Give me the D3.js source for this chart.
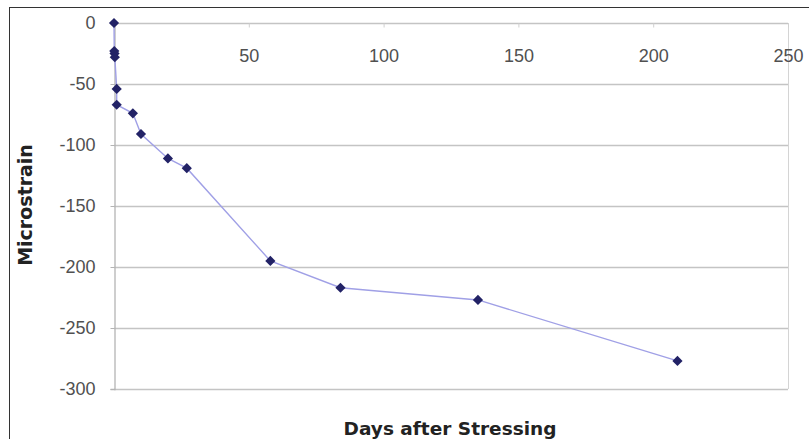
<!DOCTYPE html>
<html><head><meta charset="utf-8">
<script src="https://cdn.jsdelivr.net/npm/d3@7"></script>
<style>body{margin:0;background:#fff;}svg{display:block;font-family:"DejaVu Sans",sans-serif;}</style>
</head><body><svg id="c" width="809" height="439"></svg>
<script>
const days = [0, 0.1, 0.2, 0.3, 1, 1, 7, 10, 20, 27, 58, 84, 135, 209];
const strain = [0, -23, -25, -28, -54, -67, -74, -91, -111, -119, -195, -217, -227, -277];
const xTicks = [50, 100, 150, 200, 250];
const yTicks = [0, -50, -100, -150, -200, -250, -300];
const xTitle = "Days after Stressing";
const yTitle = "Microstrain";

const svg = d3.select("#c");
const L = 114, R = 788, T = 23, B = 389;
const x = d3.scaleLinear().domain([0, 250]).range([L, R]);
const y = d3.scaleLinear().domain([0, -300]).range([T, B]);

svg.append("rect").attr("x", 9.5).attr("y", 7.5).attr("width", 820).attr("height", 450)
  .attr("fill", "#fff").attr("stroke", "#333").attr("stroke-width", 1);

// gridlines
svg.append("g").selectAll("line").data(yTicks).join("line")
  .attr("x1", L).attr("x2", R).attr("y1", d => y(d) + 0.5).attr("y2", d => y(d) + 0.5)
  .attr("stroke", "#c4c4c4").attr("stroke-width", 1.3);
svg.append("line").attr("x1", R + 0.5).attr("x2", R + 0.5).attr("y1", T).attr("y2", B)
  .attr("stroke", "#d4d4d4");

// y axis
const ya = svg.append("g").attr("transform", `translate(${L + 0.5},0)`)
  .call(d3.axisLeft(y).tickValues(yTicks).tickSize(4).tickPadding(15).tickFormat(d => String(d)));
ya.select(".domain").attr("stroke", "#b4b4b4").attr("stroke-width", 1.3);
ya.selectAll(".tick line").attr("stroke", "#b4b4b4");
ya.selectAll("text").attr("font-size", 18).attr("fill", "#505050");

// x axis crossing at y=0
const xa = svg.append("g").attr("transform", `translate(0,${y(0) + 0.5})`)
  .call(d3.axisBottom(x).tickValues(xTicks).tickSize(4).tickPadding(22).tickFormat(d => String(d)));
xa.select(".domain").attr("stroke", "none");
xa.selectAll(".tick line").attr("stroke", "#d0d0d0");
xa.selectAll("text").attr("font-size", 18).attr("fill", "#505050");

// line
const pts = days.map((d, i) => [d, strain[i]]);
svg.append("path").datum(pts)
  .attr("d", d3.line().x(d => x(d[0])).y(d => y(d[1])))
  .attr("fill", "none").attr("stroke", "#a0a0e6").attr("stroke-width", 1.4);

// markers (square diamond)
const diamond = { draw(ctx, size) { const r = Math.sqrt(size / 2); ctx.moveTo(0, -r); ctx.lineTo(r, 0); ctx.lineTo(0, r); ctx.lineTo(-r, 0); ctx.closePath(); } };
svg.append("g").selectAll("path").data(pts).join("path")
  .attr("d", d3.symbol(diamond, 52))
  .attr("transform", d => `translate(${x(d[0])},${y(d[1])})`)
  .attr("fill", "#222266");

svg.append("text").attr("x", 450).attr("y", 435).attr("text-anchor", "middle")
  .attr("font-size", 18.5).attr("font-weight", "bold").attr("fill", "#222").text(xTitle);
svg.append("text").attr("transform", `translate(32,205) rotate(-90)`)
  .attr("text-anchor", "middle").attr("font-size", 19).attr("font-weight", "bold").attr("fill", "#222").text(yTitle);
</script></body></html>
